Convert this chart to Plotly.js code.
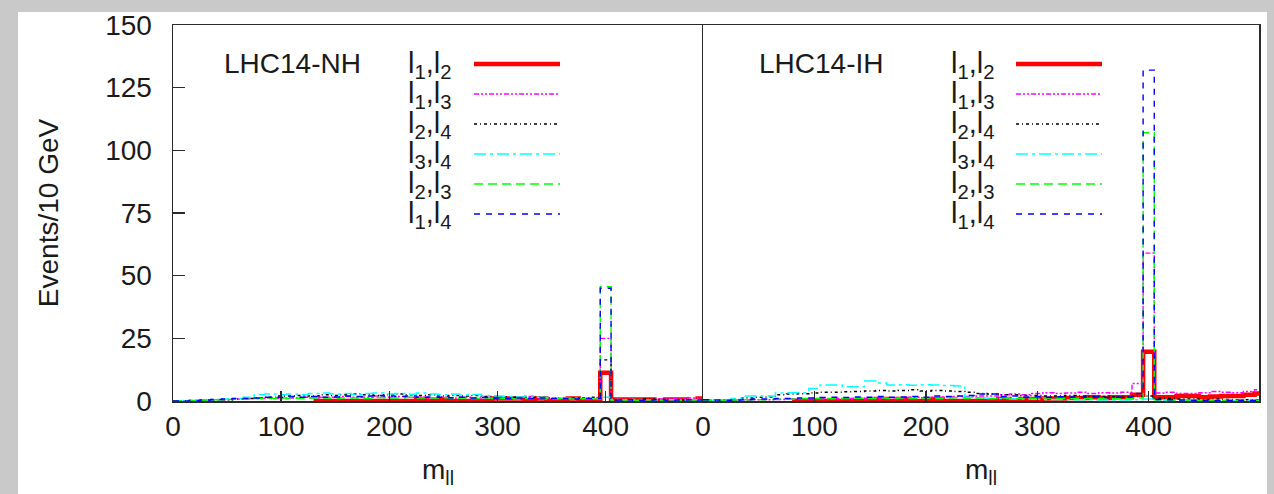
<!DOCTYPE html>
<html>
<head>
<meta charset="utf-8">
<script src="https://cdn.plot.ly/plotly-3.0.1.min.js"></script>
<style>html,body{margin:0;padding:0;background:#c9c9c9;}#chart{width:1274px;height:494px;}</style>
</head>
<body>
<div id="chart"></div>
<script>
// bin centres (GeV), 10 GeV bins
const M_LL = [0,10,20,30,40,50,60,70,80,90,100,110,120,130,140,150,160,170,180,190,200,210,220,230,240,250,260,270,280,290,300,310,320,330,340,350,360,370,380,390,400,410,420,430,440,450,460,470,480,490,500];

// ---- LHC14-NH ----
const NH_L1L2 = [null,null,null,null,null,null,null,null,null,null,null,null,null,0,0,0,0,0,0,0,0,0,0,0.8,0,0.6,0,0,0,0,1,1,1,0,1,0,0,1,0,0,11.3,0.6,0.6,0.6,0.6,0,0.6,0.6,0,1,1];
const NH_L1L3 = [0,0,0.2,0.3,0.5,0.5,0.8,1,1,1.2,1,1.2,1.5,1.2,1.5,1.5,1.8,1.5,1.5,2,1.5,1.8,1.5,1.5,1.2,1.5,1.2,1.5,1.2,1.5,1.2,1,1.5,1.8,1.2,1,1,1,0.8,1.2,25,0.6,0.6,0.5,0.5,0.8,1,0.8,1.2,1,1];
const NH_L2L4 = [0,0,0,0.3,0.5,0.5,0.8,1,1.2,1.5,2,2,2.2,2,2.5,2.2,2.5,2.8,2.5,2.2,2.5,2.8,2.5,2.2,2.5,2,2.2,2,2.2,1.8,1.8,1.6,1.5,1.4,1.5,1.3,1.2,1.2,1.3,1.5,16.4,0.5,0.5,0.4,0.8,0.6,0.5,0.4,0.5,0.4,0.4];
const NH_L3L4 = [0,0,0.3,0.5,0.6,0.8,1,1.5,2.5,2.8,2.5,2.8,2.5,3,3.2,2.8,3,2.6,3,3.2,2.8,3,2.7,3.2,2.8,2.5,2.8,2.4,2.6,2.2,2,1.8,1.6,2,1.5,1.3,1.2,1.1,1,1,1.5,0.6,0.5,0.6,0.5,0.4,0.5,0.4,0.5,0.3,0.3];
const NH_L2L3 = [0,0,0.2,0.4,0.5,0.6,0.8,0.8,1,1,1.2,1,1,1.2,1.2,1,1.2,1.2,1,1.4,1.2,1.2,1.5,1.2,1.2,1.3,1.1,1.2,1,1.2,1,1,0.8,1,1,0.8,0.9,0.8,1,0.8,45.6,0.3,0.4,0.3,0.5,0.3,0.4,0.3,0.4,0.3,0.3];
const NH_L1L4 = [0,0,0.2,0.4,0.6,0.8,1,1,1.2,1.5,1.5,1.8,1.5,1.8,1.5,1.6,2,1.8,2,2.2,2,1.8,2,1.5,1.6,1.5,1.3,1.5,1.2,1.4,1.2,1,1.2,1,1.2,1,1,0.8,1,1,45,0.4,0.5,0.3,0.4,0.5,0.3,0.4,0.5,0.4,0.4];

// ---- LHC14-IH ----
const IH_L1L2 = [1,null,null,null,null,null,null,null,0,0,0,0,0,0,0,0,0.8,0,0.8,0,0,0.8,0,0,0,0,0,0.8,0,0.8,0.8,1,1,1.2,1.2,1.5,1.2,1.5,1.5,2.5,19.6,1.5,1.5,2,2,1.5,1.8,2,2,2.5,3];
const IH_L1L3 = [0.5,0.3,0.2,0.3,0.4,0.5,0.5,0.6,0.8,0.8,1,0.8,1,1,1.2,1,1.2,1.3,1.2,1.5,1.3,1.5,1.6,1.8,1.8,2,2,2.5,2.8,2.5,3,3.3,3,3.2,3.5,3,3.3,3.2,3.5,7,59,3.2,3.5,3,3,3.3,3.8,3.5,3.3,3.8,4.5];
const IH_L2L4 = [0.2,0.2,0.3,0.5,1.2,1.5,1.6,2.5,2.8,2.9,3.2,3.5,3.5,3.7,3.8,4,4.2,4,4.2,4.5,4,4.2,4,3.8,3.5,3,2.8,2.5,2.5,2.2,2.2,2,2,2.2,2,1.8,1.8,1.6,1.5,1.8,2,1,1,0.8,0.8,0.6,0.8,0.6,0.5,0.5,0.5];
const IH_L3L4 = [0.2,0.3,0.4,1,2,2,2,3.2,3.3,3.3,5,6.4,6.4,5.7,5.7,8,7.2,6.4,6.5,6.3,6.5,6.4,6.2,6,1.5,1.2,1,1,0.8,0.8,0.7,0.6,0.6,0.5,0.5,0.5,0.4,0.4,0.4,0.5,0.8,0.3,0.3,0.2,0.2,0.2,0.2,0.2,0.2,0.2,0.2];
const IH_L2L3 = [0.3,0.3,0.3,0.4,0.5,0.5,0.6,0.8,0.8,1,1,1,0.9,1,1.1,1,1.2,1,1.2,1,1.2,1,1.2,1.3,1,1.2,1,1.2,1,1.1,1,1.2,1,1,1.1,1,1,1,1,1.2,107,0.5,0.4,0.4,0.3,0.3,0.2,0.3,0.2,0.3,0.3];
const IH_L1L4 = [0.5,0.4,0.3,0.4,0.6,0.8,0.8,1,1,1.2,1.2,1.4,1.5,1.4,1.6,1.5,1.8,1.5,1.6,1.8,1.5,2,1.8,2,2.2,2.8,2.8,1.8,2,1.6,1.8,1.5,1.7,1.6,1.5,1.6,1.4,1.5,1.6,3,132,0.6,0.5,0.4,0.3,0.3,0.2,0.2,0.3,0.2,0.2];

const SERIES_NAMES = ["l<sub>1</sub>,l<sub>2</sub>","l<sub>1</sub>,l<sub>3</sub>","l<sub>2</sub>,l<sub>4</sub>","l<sub>3</sub>,l<sub>4</sub>","l<sub>2</sub>,l<sub>3</sub>","l<sub>1</sub>,l<sub>4</sub>"];
const PANEL_LABELS = ["LHC14-NH","LHC14-IH"];
const Y_TICKS = [0,25,50,75,100,125,150];
const X_TICKS = [0,100,200,300,400];

const styles = [
  {color:"#ff0000", width:4.5, dash:"solid"},
  {color:"#ff00ff", width:1.4, dash:"5px,2px,2px,2px,2px,2px"},
  {color:"#000000", width:1.4, dash:"3px,3px,1px,3px"},
  {color:"#00ffff", width:1.4, dash:"12px,4px,3px,4px"},
  {color:"#00ff00", width:1.4, dash:"9px,5px"},
  {color:"#0000ff", width:1.4, dash:"6px,6px"}
];

const nh = [NH_L1L2,NH_L1L3,NH_L2L4,NH_L3L4,NH_L2L3,NH_L1L4];
const ih = [IH_L1L2,IH_L1L3,IH_L2L4,IH_L3L4,IH_L2L3,IH_L1L4];

const traces = [];
[[nh,"x","y"],[ih,"x2","y2"]].forEach(([set,xa,ya]) => {
  set.forEach((vals,i) => {
    traces.push({
      x: M_LL, y: vals, xaxis: xa, yaxis: ya, type: "scatter", mode: "lines",
      name: SERIES_NAMES[i], showlegend: false, connectgaps: false,
      line: {shape: "hvh", color: styles[i].color, width: styles[i].width, dash: styles[i].dash}
    });
  });
});

// layout geometry (plot area 173..1259 x 25..401 px)
const L = 173, R = 15, T = 25, B = 93, W = 1274, H = 494;
const PW = W - L - R, PH = H - T - B;
const px = v => (v - L) / PW;
const py = v => (H - B - v) / PH;
const split = px(703);

const font = "Liberation Sans, Arial, Helvetica, sans-serif";
const txt = "#1a1a1a";
const axLine = "#2a2a2a";

const shapes = [{type:"rect", xref:"paper", yref:"paper", x0:px(18), x1:px(1267), y0:py(520), y1:py(12), fillcolor:"#ffffff", line:{width:0}, layer:"below"}];
const annotations = [];
const rowsY = [64,94,124,154,184,214];
[[406,474,560,222,0],[949,1016,1102,757,1]].forEach(([tx,l0,l1,lx,p]) => {
  annotations.push({xref:"paper", yref:"paper", x:px(lx), y:py(63), xanchor:"left", yanchor:"middle", showarrow:false, text:PANEL_LABELS[p], font:{family:font, size:28, color:txt}});
  SERIES_NAMES.forEach((n,i) => {
    annotations.push({xref:"paper", yref:"paper", x:px(tx), y:py(rowsY[i]+1), xanchor:"left", yanchor:"middle", showarrow:false, text:n, font:{family:font, size:29, color:txt}});
    shapes.push({type:"line", xref:"paper", yref:"paper", x0:px(l0), x1:px(l1), y0:py(rowsY[i]), y1:py(rowsY[i]), line:{color:styles[i].color, width:styles[i].width, dash:styles[i].dash}});
  });
});

const xax = (dom, rng) => ({
  domain: dom, range: rng, tickvals: X_TICKS, ticktext: X_TICKS.map(String),
  ticks: "inside", ticklen: 10, tickwidth: 1.5, tickcolor: axLine,
  showline: true, linecolor: axLine, linewidth: 1.5, mirror: true,
  showgrid: false, zeroline: false, tickfont: {family: font, size: 28, color: txt},
  title: {text: "m<sub>ll</sub>", font: {family: font, size: 28, color: txt}, standoff: 18},
  fixedrange: true
});

const layout = {
  width: W, height: H,
  margin: {l: L, r: R, t: T, b: B, pad: 0},
  paper_bgcolor: "#c9c9c9", plot_bgcolor: "rgba(0,0,0,0)",
  showlegend: false,
  xaxis: xax([0, split], [0, 490]),
  xaxis2: xax([split, 1], [0, 499]),
  yaxis: {
    domain: [0,1], range: [0,150], tickvals: Y_TICKS, ticks: "inside", ticklen: 12, tickwidth: 1.5, tickcolor: axLine,
    showline: true, linecolor: axLine, linewidth: 1.5, mirror: false, showgrid: false, zeroline: false,
    tickfont: {family: font, size: 28, color: txt}, ticklabelstandoff: 14,
    title: {text: "Events/10 GeV", font: {family: font, size: 28, color: txt}, standoff: 38}
  },
  yaxis2: {
    anchor: "x2", domain: [0,1], range: [0,150], ticks: "", showticklabels: false,
    showline: true, linecolor: axLine, linewidth: 1.5, mirror: true, showgrid: false, zeroline: false
  },
  shapes: shapes,
  annotations: annotations
};

Plotly.newPlot("chart", traces, layout, {staticPlot: true, displayModeBar: false});
</script>
</body>
</html>
